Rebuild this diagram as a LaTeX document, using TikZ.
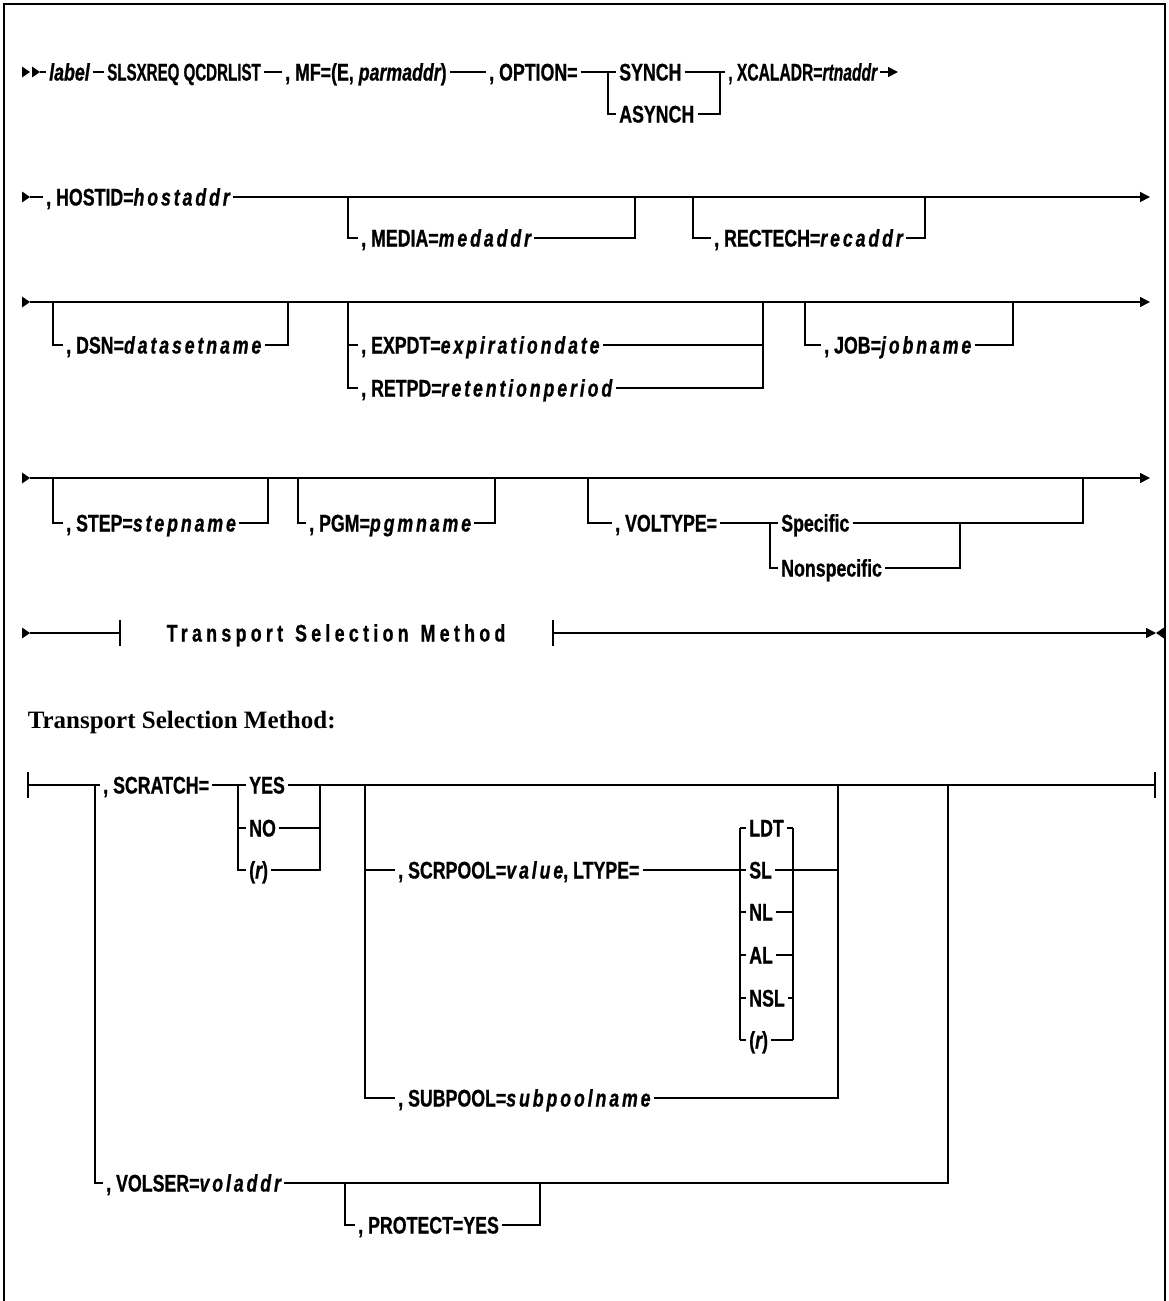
\documentclass[tikz,border=0pt]{standalone}
\usepackage{fontspec}
\usepackage{graphicx}
\setmainfont{Liberation Sans}
\newfontfamily\rrfont[FakeStretch=0.74,FakeBold=0.8]{Liberation Sans}
\newfontfamily\hdfont{Liberation Serif}
\usetikzlibrary{arrows.meta}
\newcommand\var[1]{{\itshape\addfontfeature{LetterSpace=12}#1}}
\newcommand\varn[1]{{\itshape #1}}
\begin{document}
\begin{tikzpicture}[x=1pt,y=-1pt,line width=1.5pt,
  t/.style={font=\rrfont\bfseries\fontsize{24}{27}\selectfont,inner ysep=0pt,inner xsep=2.5pt,text height=17pt,text depth=0pt,anchor=west},
  endarr/.style={-{Triangle[length=10pt,width=10pt]}},
  rtri/.pic={\fill (0,-5.5) -- (8,0) -- (0,5.5) -- cycle;},
  ltri/.pic={\fill (0,-5.5) -- (-8,0) -- (0,5.5) -- cycle;}]
\useasboundingbox (0,0) rectangle (1168,1301);
% frame
\draw[line width=1.2pt] (4,1301) -- (4,4) -- (1165,4) -- (1165,1301);

% ---------- row 1 ----------
\pic at (22,72) {rtri}; \pic at (32,72) {rtri};
\coordinate (a0) at (40,72);
\node[t] (lab) at (46,72) {\varn{label}};
\node[t] (mac) at (104,72) {\scalebox{0.85}[1]{SLSXREQ QCDRLIST}};
\node[t] (mf) at (282,72) {, MF=(E, \varn{parmaddr})};
\node[t] (opt) at (486,72) {, OPTION=};
\coordinate (o1) at (608,72);
\node[t] (syn) at (616,72) {SYNCH};
\node[t] (asyn) at (616,114) {ASYNCH};
\coordinate (o2) at (720,72);
\node[t] (xc) at (725,72) {\scalebox{0.88}[1]{, XCALADR=\varn{rtnaddr}}};
\coordinate (a1) at (898,72);
\draw (a0) -- (lab.west);
\draw (lab.east) -- (mac.west);
\draw (mac.east) -- (mf.west);
\draw (mf.east) -- (opt.west);
\draw (opt.east) -- (o1) -- (syn.west);
\draw (o1) |- (asyn.west);
\draw (syn.east) -- (o2) -- (xc.west);
\draw (asyn.east) -| (o2);
\draw[endarr] (xc.east) -- (a1);

% ---------- row 2 ----------
\pic at (22,197) {rtri};
\coordinate (b0) at (30,197);
\node[t] (host) at (43,197) {, HOSTID=\var{hostaddr}};
\coordinate (b9) at (1150,197);
\draw (b0) -- (host.west);
\draw[endarr] (host.east) -- (b9);
\coordinate (m1) at (348,197); \coordinate (m2) at (635,197);
\node[t] (media) at (358,238) {, MEDIA=\var{medaddr}};
\draw (m1) |- (media.west); \draw (media.east) -| (m2);
\coordinate (r1) at (693,197); \coordinate (r2) at (925,197);
\node[t] (rec) at (711,238) {, RECTECH=\var{recaddr}};
\draw (r1) |- (rec.west); \draw (rec.east) -| (r2);

% ---------- row 3 ----------
\pic at (22,302) {rtri};
\coordinate (c0) at (30,302); \coordinate (c9) at (1150,302);
\draw[endarr] (c0) -- (c9);
\coordinate (d1) at (53,302); \coordinate (d2) at (288,302);
\node[t] (dsn) at (63,345) {, DSN=\var{datasetname}};
\draw (d1) |- (dsn.west); \draw (dsn.east) -| (d2);
\coordinate (x1) at (348,302); \coordinate (x2) at (763,302);
\node[t] (exp) at (358,345) {, EXPDT=\var{expirationdate}};
\node[t] (ret) at (358,388) {, RETPD=\var{retentionperiod}};
\draw (x1) |- (ret.west); \draw (x1 |- exp.west) -- (exp.west);
\draw (ret.east) -| (x2); \draw (exp.east) -- (x2 |- exp.east);
\coordinate (j1) at (805,302); \coordinate (j2) at (1013,302);
\node[t] (job) at (821,345) {, JOB=\var{jobname}};
\draw (j1) |- (job.west); \draw (job.east) -| (j2);

% ---------- row 4 ----------
\pic at (22,478) {rtri};
\coordinate (e0) at (30,478); \coordinate (e9) at (1150,478);
\draw[endarr] (e0) -- (e9);
\coordinate (s1) at (53,478); \coordinate (s2) at (268,478);
\node[t] (stp) at (63,523) {, STEP=\var{stepname}};
\draw (s1) |- (stp.west); \draw (stp.east) -| (s2);
\coordinate (g1) at (298,478); \coordinate (g2) at (495,478);
\node[t] (pgm) at (306,523) {, PGM=\var{pgmname}};
\draw (g1) |- (pgm.west); \draw (pgm.east) -| (g2);
\coordinate (v0) at (588,478);
\node[t] (vt) at (612,523) {, VOLTYPE=};
\coordinate (v1) at (770,523);
\node[t] (spec) at (778,523) {Specific};
\node[t] (nspec) at (778,568) {Nonspecific};
\coordinate (v2) at (960,523); \coordinate (v3) at (1083,478);
\draw (v0) |- (vt.west);
\draw (vt.east) -- (v1) -- (spec.west);
\draw (v1) |- (nspec.west);
\draw (spec.east) -- (v2) -| (v3);
\draw (nspec.east) -| (v2);

% ---------- row 5 ----------
\pic at (22,633) {rtri};
\coordinate (f0) at (30,633);
\coordinate (fb1) at (120,633); \coordinate (fb2) at (553,633);
\node[t,anchor=center] (tsm) at (336,633) {\addfontfeature{LetterSpace=18}Transport\hspace{12pt}Selection\hspace{12pt}Method};
\coordinate (f9) at (1156,633);
\draw (f0) -- (fb1);
\draw ([yshift=-13pt]fb1) -- ([yshift=13pt]fb1);
\draw ([yshift=-13pt]fb2) -- ([yshift=13pt]fb2);
\draw[endarr] (fb2) -- (f9);
\pic at (1164,633) {ltri};

% ---------- heading ----------
\node[font=\hdfont\bfseries\fontsize{25}{28}\selectfont,anchor=west,inner sep=0pt] (hd) at (27,722) {Transport Selection Method:};

% ---------- row 6 ----------
\coordinate (h0) at (28,785); \coordinate (h9) at (1155,785);
\draw ([yshift=-13pt]h0) -- ([yshift=13pt]h0);
\draw ([yshift=-13pt]h9) -- ([yshift=13pt]h9);
\node[t] (scr) at (100,785) {, SCRATCH=};
\draw (h0) -- (scr.west);
\coordinate (c1) at (238,785);
\node[t] (yes) at (246,785) {YES};
\node[t] (no) at (246,828) {NO};
\node[t] (rr) at (246,870) {(\varn{r})};
\coordinate (c2) at (320,785);
\draw (scr.east) -- (c1) -- (yes.west);
\draw (c1) |- (no.west); \draw (c1) |- (rr.west);
\draw (yes.east) -- (c2) -- (h9);
\draw (no.east) -| (c2); \draw (rr.east) -| (c2);
% scrpool / subpool
\coordinate (p1) at (365,785); \coordinate (p2) at (838,785);
\node[t] (scp) at (395,870) {, SCRPOOL=\var{value}, LTYPE=};
\node[t] (sub) at (395,1098) {, SUBPOOL=\var{subpoolname}};
\draw (p1) |- (sub.west); \draw (p1 |- scp.west) -- (scp.west);
\draw (sub.east) -| (p2);
\coordinate (l1) at (740,870); \coordinate (l2) at (793,870);
\node[t] (ldt) at (746,828) {LDT};
\node[t] (sl) at (746,870) {SL};
\node[t] (nl) at (746,912) {NL};
\node[t] (al) at (746,955) {AL};
\node[t] (nsl) at (746,998) {NSL};
\node[t] (lr) at (746,1040) {(\varn{r})};
\draw (scp.east) -- (l1) -- (sl.west);
\draw (l1 |- ldt.west) -- (l1 |- lr.west);
\draw (l2 |- ldt.west) -- (l2 |- lr.west);
\foreach \n in {ldt,nl,al,nsl,lr}{\draw (l1 |- \n.west) -- (\n.west); \draw (\n.east) -- (l2 |- \n.east);}
\draw (sl.east) -- (l2) -- (p2 |- l2);
% volser / protect
\coordinate (w1) at (95,785); \coordinate (w2) at (948,785);
\node[t] (vol) at (103,1183) {, VOLSER=\var{voladdr}};
\draw (w1) |- (vol.west); \draw (vol.east) -| (w2);
\coordinate (q1) at (345,1183); \coordinate (q2) at (540,1183);
\node[t] (prot) at (355,1225) {, PROTECT=YES};
\draw (q1) |- (prot.west); \draw (prot.east) -| (q2);
\end{tikzpicture}
\end{document}
